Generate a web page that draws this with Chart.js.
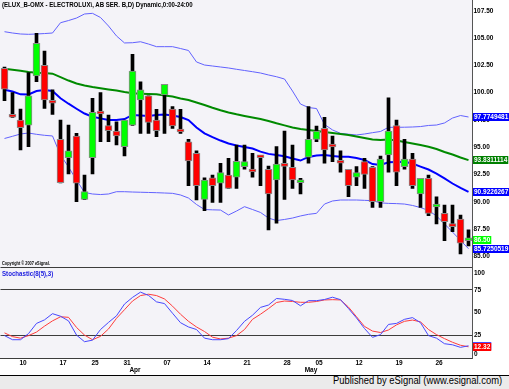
<!DOCTYPE html>
<html>
<head>
<meta charset="utf-8">
<title>ELUX_B-OMX</title>
<script src="https://cdn.jsdelivr.net/npm/chart.js@4.4.1/dist/chart.umd.min.js"></script>
<style>
  html, body { margin: 0; padding: 0; background: #fff; }
  #wrap { position: relative; width: 509px; height: 389px; overflow: hidden; font-family: "Liberation Sans", Arial, sans-serif; }
  canvas { position: absolute; left: 0; }
  #main { top: 0; }
  #stoch { top: 260px; }
  .txt { position: absolute; white-space: nowrap; line-height: 1; transform-origin: 0 0; }
  #title { left: 2px; top: 1px; font-size: 7px; font-weight: bold; color: #000; }
  #copy { left: 2px; top: 261px; font-size: 5px; font-weight: bold; color: #000; }
  #stochName { left: 2px; top: 270px; font-size: 7px; font-weight: bold; color: #2020e0; }
  #footer { position: absolute; left: 0; top: 375px; width: 509px; height: 14px; background: #ebebeb; border-top: 1px solid #000; box-sizing: border-box; }
  #pub { left: 333px; top: 376px; font-size: 10px; color: #000; }
</style>
</head>
<body>
<div id="wrap">
  <canvas id="main" width="509" height="267"></canvas>
  <canvas id="stoch" width="509" height="115"></canvas>
  <div class="txt" id="title">(ELUX_B-OMX - ELECTROLUX\, AB SER. B,D) Dynamic,0:00-24:00</div>
  <div class="txt" id="copy">Copyright © 2007 eSignal.</div>
  <div class="txt" id="stochName">Stochastic(8(5),3)</div>
  <div id="footer"></div>
  <div class="txt" id="pub">Published by eSignal (www.esignal.com)</div>
</div>
<script>
const FONT = '"Liberation Sans", Arial, sans-serif'

// trading days (Stockholm) shown on the chart
const dates = [
  '2008-03-06', '2008-03-07', '2008-03-10', '2008-03-11', '2008-03-12', '2008-03-13', '2008-03-14',
  '2008-03-17', '2008-03-18', '2008-03-19', '2008-03-20', '2008-03-25', '2008-03-26', '2008-03-27', '2008-03-28', '2008-03-31',
  '2008-04-01', '2008-04-02', '2008-04-03', '2008-04-04', '2008-04-07', '2008-04-08', '2008-04-09', '2008-04-10', '2008-04-11',
  '2008-04-14', '2008-04-15', '2008-04-16', '2008-04-17', '2008-04-18', '2008-04-21', '2008-04-22', '2008-04-23', '2008-04-24', '2008-04-25',
  '2008-04-28', '2008-04-29', '2008-04-30', '2008-05-02', '2008-05-05', '2008-05-06', '2008-05-07', '2008-05-08', '2008-05-09',
  '2008-05-12', '2008-05-13', '2008-05-14', '2008-05-15', '2008-05-16', '2008-05-19', '2008-05-20', '2008-05-21', '2008-05-22', '2008-05-23',
  '2008-05-26', '2008-05-27', '2008-05-28', '2008-05-29', '2008-05-30'
]
const dayTicks = ['2008-03-10', '2008-03-17', '2008-03-25', '2008-03-31', '2008-04-07', '2008-04-14',
  '2008-04-21', '2008-04-28', '2008-05-05', '2008-05-12', '2008-05-19', '2008-05-26']
const monthTicks = ['2008-04-01', '2008-05-02']
const monthNames = ['Apr', 'May']

const opens = [102.23, 97.96, 97.50, 97.02, 101.53, 102.50, 99.24, 95.73, 94.05, 96.04,
  90.24, 94.05, 98.20, 96.98, 96.49, 95.06, 97.02, 99.33, 99.72, 97.50,
  99.79, 98.51, 96.49, 95.51, 94.45, 90.24, 92.22, 91.71, 92.47, 92.26,
  93.23, 92.99, 94.21, 92.99, 92.01, 93.34, 93.17, 91.76, 94.09, 95.73,
  96.74, 95.09, 93.69, 92.99, 92.26, 93.69, 93.17, 90.03, 94.30, 96.98,
  93.23, 93.93, 90.73, 92.17, 89.54, 88.96, 87.89, 88.44, 86.45]
const highs = [102.35, 100.00, 98.51, 101.83, 105.43, 103.81, 100.25, 97.50, 97.04, 96.28,
  92.47, 99.49, 100.00, 97.96, 97.34, 97.50, 103.51, 101.00, 99.72, 98.48,
  100.77, 98.72, 98.48, 95.73, 94.69, 92.22, 92.47, 93.54, 94.00, 95.21,
  95.21, 94.45, 94.21, 93.29, 95.06, 96.49, 95.21, 92.17, 98.72, 96.95,
  97.75, 96.04, 94.69, 92.99, 93.23, 94.00, 93.23, 94.21, 99.54, 97.50,
  95.73, 94.45, 92.17, 92.47, 90.48, 89.72, 89.72, 88.81, 87.44]
const lows = [99.27, 97.73, 94.76, 95.06, 101.00, 98.57, 98.02, 91.74, 92.56, 90.03,
  90.20, 92.56, 95.51, 95.51, 95.21, 94.21, 97.00, 96.28, 96.28, 95.97,
  96.28, 96.74, 96.28, 91.49, 90.18, 89.20, 89.97, 89.97, 91.23, 91.25,
  92.99, 92.26, 91.49, 87.44, 88.05, 90.24, 91.25, 90.73, 93.54, 95.51,
  93.54, 93.69, 92.72, 90.48, 91.49, 91.25, 89.51, 89.51, 92.72, 91.49,
  92.99, 91.25, 89.51, 88.74, 87.99, 86.46, 87.28, 85.24, 85.97]
const closes = [100.31, 97.75, 96.80, 99.72, 104.52, 99.33, 99.03, 91.76, 94.69, 91.71,
  90.94, 98.20, 98.05, 96.52, 96.04, 97.50, 101.98, 100.25, 97.29, 96.52,
  100.77, 96.95, 96.40, 93.75, 91.49, 92.01, 91.49, 92.68, 91.25, 93.72,
  93.69, 92.74, 94.05, 90.73, 93.47, 93.25, 92.01, 91.92, 95.73, 96.49,
  94.76, 95.03, 93.54, 91.49, 92.68, 92.53, 90.03, 93.93, 96.49, 92.72,
  93.93, 91.49, 92.17, 88.96, 89.60, 88.20, 87.74, 86.22, 86.50]

// bollinger bands
const bbUpper = [105.58, 105.46, 105.37, 105.34, 105.37, 105.41, 105.46, 106.40, 106.60, 106.83,
  107.20, 107.26, 106.88, 106.10, 105.19, 104.55, 104.57, 104.66, 104.45, 104.21,
  104.21, 104.21, 104.04, 103.86, 102.81, 102.53, 102.44, 102.35, 102.26, 102.14,
  102.03, 101.92, 101.80, 101.62, 101.46, 101.25, 100.15, 98.96, 98.64, 98.55,
  97.09, 96.59, 96.28, 96.20, 96.13, 96.22, 96.34, 96.45, 96.83, 96.83,
  96.84, 96.86, 96.90, 97.00, 97.04, 97.23, 97.68, 97.91, 97.7749481]
const bbLower = [95.81, 96.01, 96.22, 96.31, 96.19, 96.10, 96.04, 94.30, 93.20, 92.01,
  90.87, 90.73, 90.68, 90.73, 90.94, 90.94, 90.91, 90.89, 90.87, 90.85,
  90.82, 90.79, 90.64, 90.36, 89.77, 89.31, 89.28, 89.26, 88.81, 89.17,
  89.57, 89.31, 89.04, 88.53, 88.30, 88.40, 88.53, 88.72, 88.87, 88.96,
  89.81, 90.09, 90.18, 90.18, 90.18, 90.15, 90.12, 89.92, 89.87, 89.85,
  89.81, 89.68, 89.49, 89.22, 88.72, 87.99, 87.25, 86.48, 85.7250519]

// moving averages
const maSlow = [102.18, 102.10, 102.01, 101.89, 101.82, 101.80, 101.74, 101.43, 101.11, 100.84,
  100.66, 100.52, 100.40, 100.29, 100.19, 100.06, 99.95, 99.91, 99.88, 99.85,
  99.74, 99.65, 99.47, 99.33, 99.10, 98.87, 98.62, 98.39, 98.19, 98.02,
  97.87, 97.73, 97.59, 97.41, 97.20, 97.01, 96.81, 96.68, 96.59, 96.49,
  96.40, 96.31, 96.22, 96.13, 95.99, 95.85, 95.72, 95.67, 95.72, 95.62,
  95.49, 95.35, 95.21, 95.06, 94.85, 94.57, 94.34, 94.07, 93.8311114]
const maFast = [100.26, 100.11, 99.85, 99.83, 100.15, 100.24, 100.15, 99.49, 98.99, 98.53,
  98.09, 97.80, 97.65, 97.50, 97.50, 97.59, 97.96, 97.91, 97.87, 97.96,
  98.00, 97.91, 97.77, 97.50, 96.81, 96.28, 95.94, 95.62, 95.35, 95.17,
  95.03, 94.89, 94.61, 94.40, 94.30, 94.18, 93.98, 93.79, 94.12, 94.25,
  94.30, 94.21, 94.14, 94.14, 94.02, 93.84, 93.47, 93.38, 93.64, 93.66,
  93.67, 93.52, 93.24, 92.97, 92.60, 92.15, 91.69, 91.28, 90.9226267]

// stochastic %K (blue) and %D (red)
const stochK = [24.6, 20.1, 20.1, 26.8, 38.0, 41.9, 48.7, 45.9, 40.8, 25.2,
  17.9, 19.6, 31.3, 39.1, 46.4, 59.3, 66.6, 72.4, 68.8, 61.7,
  59.8, 49.2, 38.8, 34.1, 31.3, 21.8, 20.1, 20.1, 21.3, 30.2,
  40.3, 47.0, 55.6, 58.2, 65.4, 64.5, 63.2, 57.4, 63.0, 63.0,
  64.3, 66.8, 64.1, 54.3, 44.0, 32.4, 22.7, 25.7, 36.9, 38.0,
  42.5, 44.4, 38.8, 24.6, 21.8, 15.7, 14.5, 11.7, 13.4]
const stochD = [27.6, 23.5, 21.8, 24.6, 28.5, 35.0, 40.8, 45.3, 44.7, 33.6,
  25.2, 20.1, 23.8, 31.9, 43.6, 53.1, 62.6, 68.6, 70.1, 68.6,
  64.9, 57.0, 48.1, 40.3, 34.1, 29.1, 22.9, 20.9, 21.8, 24.6,
  31.3, 42.5, 48.1, 54.3, 61.0, 62.6, 62.1, 61.2, 61.2, 62.1,
  63.8, 64.1, 63.8, 55.9, 45.3, 34.7, 29.6, 28.0, 30.8, 36.4,
  40.3, 41.7, 39.7, 31.3, 25.7, 21.3, 17.3, 14.0, 12.32]

const priceTicks = [85, 87.5, 90, 92.5, 95, 97.5, 100, 102.5, 105, 107.5]
const stochTicks = [0, 25, 50, 75, 100]

const PLOT_BG = '#f4f3f8'
const AXIS_W = 36.5
const last = a => a[a.length - 1]

const candleColors = closes.map((c, i) => c >= opens[i] ? '#00ff00' : '#ff0000')

// light panel background behind the plot area
const panelBg = {
  id: 'panelBg',
  beforeDraw (chart) {
    const { ctx, chartArea: a } = chart
    ctx.save()
    ctx.fillStyle = PLOT_BG
    ctx.fillRect(0, a.top, a.right, a.bottom - a.top)
    ctx.restore()
  }
}

// coloured last-value boxes on the right axis
const makeTags = items => ({
  id: 'valueTags',
  afterDraw (chart) {
    const { ctx } = chart
    const y = chart.scales.y
    ctx.save()
    ctx.font = 'bold 6.5px ' + FONT
    ctx.textBaseline = 'middle'
    items.forEach(t => {
      const py = Math.round(y.getPixelForValue(t.value))
      const w = ctx.measureText(t.text).width + 2
      ctx.fillStyle = t.bg
      ctx.fillRect(473, py - 4, w, 8)
      ctx.fillStyle = '#fff'
      ctx.fillText(t.text, 474, py + 0.5)
    })
    ctx.restore()
  }
})

// stochastic scale labels, kept inside the panel like eSignal does
const stochLabels = {
  id: 'stochLabels',
  afterDraw (chart) {
    const { ctx, chartArea: a } = chart
    const y = chart.scales.y
    ctx.save()
    ctx.font = 'bold 6.5px ' + FONT
    ctx.fillStyle = '#000'
    ctx.textBaseline = 'middle'
    stochTicks.forEach(v => {
      const py = Math.min(Math.max(y.getPixelForValue(v), a.top + 6), a.bottom - 4)
      ctx.fillText(String(v), 474, py)
    })
    ctx.restore()
  }
}

const fixAxis = s => { s.width = AXIS_W; s.paddingTop = 0; s.paddingBottom = 0 }

const xLabel = i => {
  const d = dates[i]
  if (dayTicks.includes(d)) return [d.slice(8)]
  const m = monthTicks.indexOf(d)
  if (m >= 0) return ['', monthNames[m]]
  return ''
}

new Chart(document.getElementById('main'), {
  type: 'bar',
  data: {
    labels: dates,
    datasets: [
      { type: 'line', data: bbUpper, borderColor: '#6262ff', borderWidth: 1, pointRadius: 0, order: 4 },
      { type: 'line', data: bbLower, borderColor: '#6262ff', borderWidth: 1, pointRadius: 0, order: 4 },
      { type: 'line', data: maSlow, borderColor: '#008a00', borderWidth: 2, pointRadius: 0, order: 3 },
      { type: 'line', data: maFast, borderColor: '#0000ff', borderWidth: 2, pointRadius: 0, order: 3 },
      { data: lows.map((l, i) => [l, highs[i]]), backgroundColor: '#000', barThickness: 3, grouped: false, order: 1 },
      { data: opens.map((o, i) => [o, closes[i]]), backgroundColor: candleColors, borderColor: '#8a8a8a',
        borderWidth: 1, borderSkipped: false, barThickness: 7, minBarLength: 3, grouped: false, order: 0 }
    ]
  },
  options: {
    responsive: false,
    animation: false,
    events: [],
    layout: { padding: { left: 0.5, top: 0, right: 0, bottom: 0 } },
    plugins: { legend: { display: false }, tooltip: { enabled: false } },
    scales: {
      x: { display: false, offset: true },
      y: {
        position: 'right', min: 84.05, max: 108.48,
        grid: { display: false, drawTicks: false },
        border: { display: true, color: '#555' },
        afterBuildTicks: s => { s.ticks = priceTicks.map(v => ({ value: v })) },
        afterFit: fixAxis,
        ticks: { color: '#000', padding: 1, font: { family: FONT, size: 6.5, weight: 'bold' }, callback: v => v.toFixed(2) }
      }
    }
  },
  plugins: [panelBg, makeTags([
    { value: last(bbUpper), text: String(last(bbUpper)), bg: '#0000ff' },
    { value: last(maSlow), text: String(last(maSlow)), bg: '#008000' },
    { value: last(maFast), text: String(last(maFast)), bg: '#0000ff' },
    { value: last(closes), text: last(closes).toFixed(2), bg: '#00ff00' },
    { value: last(bbLower), text: String(last(bbLower)), bg: '#0000ff' }
  ])]
})

new Chart(document.getElementById('stoch'), {
  type: 'line',
  data: {
    labels: dates,
    datasets: [
      { data: stochK, borderColor: '#4848ff', borderWidth: 1, pointRadius: 0 },
      { data: stochD, borderColor: '#ff3c3c', borderWidth: 1, pointRadius: 0 }
    ]
  },
  options: {
    responsive: false,
    animation: false,
    events: [],
    layout: { padding: { left: 0.5, top: 7, right: 0, bottom: 0 } },
    plugins: { legend: { display: false }, tooltip: { enabled: false } },
    scales: {
      x: {
        offset: true,
        grid: { display: false, drawTicks: false },
        border: { display: true, color: '#3c3c3c' },
        afterFit: s => { s.height = 17; s.paddingLeft = 0; s.paddingRight = 0 },
        ticks: { autoSkip: false, maxRotation: 0, padding: 1, labelOffset: 2.5, color: '#000',
          font: { family: FONT, size: 6.5, weight: 'bold' }, callback: (v, i) => xLabel(i) }
      },
      y: {
        position: 'right', min: 0, max: 100,
        grid: { drawTicks: false, color: c => (c.tick && c.tick.value === 50) ? 'rgba(0,0,0,0)' : '#3c3c3c' },
        border: { display: true, color: '#555' },
        afterBuildTicks: s => { s.ticks = stochTicks.map(v => ({ value: v })) },
        afterFit: fixAxis,
        ticks: { display: false }
      }
    }
  },
  plugins: [panelBg, stochLabels, makeTags([
    { value: last(stochK), text: last(stochK).toFixed(2), bg: '#4848ff' },
    { value: last(stochD), text: last(stochD).toFixed(2), bg: '#ff0000' }
  ])]
})

// squeeze the small captions to the widths they have in the original
const fitWidth = (id, w) => {
  const el = document.getElementById(id)
  el.style.transform = 'scaleX(' + (w / el.offsetWidth) + ')'
}
fitWidth('title', 191)
fitWidth('copy', 48)
fitWidth('stochName', 51)
fitWidth('pub', 169)
</script>
</body>
</html>
